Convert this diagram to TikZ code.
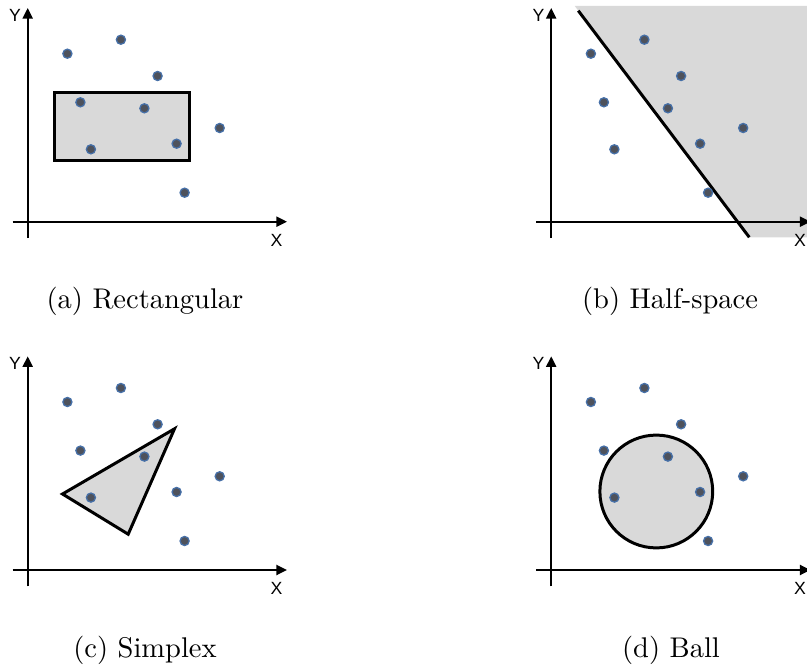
\documentclass[tikz,border=0pt]{standalone}
\usepackage{fontspec}
\newfontfamily\axfont{Liberation Sans}
\usetikzlibrary{arrows.meta}
\definecolor{dotfill}{RGB}{78,82,92}
\definecolor{dotedge}{RGB}{70,112,168}
\definecolor{stipple}{RGB}{217,217,217}
\tikzset{
  pt/.style={circle,inner sep=0pt,minimum size=3.2pt,fill=dotfill,draw=dotedge,line width=0.45pt},
  axisline/.style={line width=0.7pt,-{Triangle[length=3.7pt,width=3.5pt]}},
  region/.style={line width=1.05pt,fill=stipple,line join=miter},
  boundary/.style={line width=1.05pt},
  axlabel/.style={font=\axfont\fontsize{6.2}{7}\selectfont,inner sep=0pt},
  caption/.style={anchor=base,inner sep=0pt,font=\fontsize{10}{12}\selectfont}
}
\newcommand\panelaxes[1]{%
  \coordinate (#1yb) at (27.7,238);
  \coordinate (#1yt) at (27.7,8);
  \coordinate (#1xl) at (12.7,221.7);
  \coordinate (#1xr) at (287,221.7);
  \draw[axisline] (#1yb) -- (#1yt);
  \draw[axisline] (#1xl) -- (#1xr);
  \node[axlabel] (#1Y) at (15,15) {Y};
  \node[axlabel] (#1X) at (276.5,240) {X};
}
\newcommand\panelpoints[1]{%
  \foreach \px/\py [count=\i] in {67.4/53.7,120.9/39.7,157.6/76,80.4/102.3,144.4/108.3,219.7/128,90.9/149.3,176.6/143.7,184.6/192.7}
    {\node[pt] (#1p\i) at (\px,\py) {};}
}
\begin{document}
\begin{tikzpicture}[x=0.351pt,y=-0.351pt]
\useasboundingbox (0,0) rectangle (807,671);
% (a) Rectangular
\begin{scope}
  \panelaxes{a}
  \draw[region] (54.8,92.2) rectangle (189.5,160.2);
  \panelpoints{a}
\end{scope}
% (b) Half-space
\begin{scope}[shift={(523.5,0)}]
  \fill[stipple] (51.3,6) -- (290,6) -- (290,237.3) -- (225.8,237.3) -- cycle;
  \panelaxes{b}
  \coordinate (bh1) at (54.8,10.7);
  \coordinate (bh2) at (225.8,237.3);
  \draw[boundary] (bh1) -- (bh2);
  \panelpoints{b}
\end{scope}
% (c) Simplex
\begin{scope}[shift={(0,348.3)}]
  \panelaxes{c}
  \draw[region] (62.5,145.7) -- (174.5,80.5) -- (128.2,185.9) -- cycle;
  \panelpoints{c}
\end{scope}
% (d) Ball
\begin{scope}[shift={(523.5,348.3)}]
  \panelaxes{d}
  \draw[region] (132.8,143.2) circle[radius=19.8pt];
  \panelpoints{d}
\end{scope}
\node[caption] (capa) at (145,308) {(a) Rectangular};
\node[caption] (capb) at (670,308) {(b) Half-space};
\node[caption] (capc) at (145,657) {(c) Simplex};
\node[caption] (capd) at (671,657) {(d) Ball};
\end{tikzpicture}
\end{document}
